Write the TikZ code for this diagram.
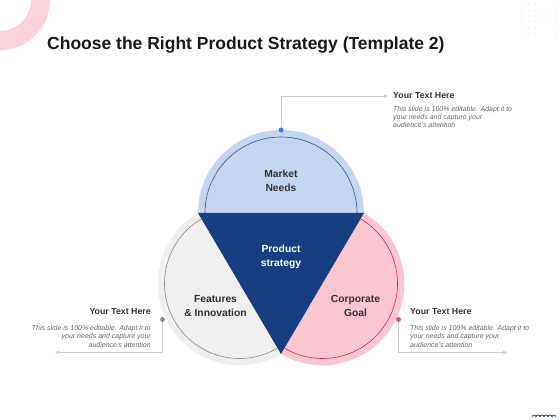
\documentclass[tikz,border=0pt]{standalone}
\usepackage{fontspec}
\setmainfont{Liberation Sans}
\usetikzlibrary{arrows.meta}
\definecolor{mktblue}{HTML}{C6D6F2}
\definecolor{navy}{HTML}{173E80}
\definecolor{featgray}{HTML}{EFEFEF}
\definecolor{goalpink}{HTML}{F9C6D2}
\definecolor{goalred}{HTML}{D62A4C}
\definecolor{dotpink}{HTML}{F0506E}
\definecolor{dotblue}{HTML}{3A78D8}
\definecolor{linegray}{HTML}{CFCFCF}
\definecolor{txtdark}{HTML}{333333}
\definecolor{txtgray}{HTML}{666666}
\definecolor{ringpink}{HTML}{FAD3DC}

\begin{document}
\begin{tikzpicture}[
  x=1pt,
  y=1pt,
  lbl/.style={
    font=\fontsize{10.3}{14}\selectfont\bfseries,
    text=txtdark,
    align=center
  },
  head/.style={
    font=\fontsize{8.8}{10}\selectfont\bfseries,
    text=txtdark,
    inner sep=0pt
  },
  body/.style={
    font=\fontsize{7}{8.3}\selectfont\itshape,
    text=txtgray,
    inner sep=0pt
  },
  conn/.style={
    linegray,
    line width=0.6pt,
    -{Triangle[length=4pt,width=3.5pt]}
  },
  mydot/.style={
    circle,
    outer sep=0pt,
    inner sep=0pt,
    minimum size=5pt
  }
]
\useasboundingbox (0,0) rectangle (560,420);
\draw[ringpink, line width=19pt] (0,420) circle (40.5);
\foreach \i in {0,...,5}
  \foreach \j in {0,...,5}
    \fill[black!8] (522+\i*6.8,416-\j*6) circle (0.8);
\foreach \k in {0,...,5}
  \draw[navy, line width=0.7pt] (532+4*\k,3) arc (180:0:2);

\node[font=\fontsize{17.5}{20}\selectfont\bfseries, text=black!90, anchor=west, inner sep=0pt] (title) at (47,375) {Choose the Right Product Strategy (Template 2)};

\fill[mktblue] (364,207) arc (0:180:83) -- cycle;
\fill[featgray] (198,207) arc (120.5:300.5:81.8) -- cycle;
\fill[goalpink] (281,66) arc (239.5:419.5:81.8) -- cycle;
\fill[navy] (198,207) -- (364,207) -- (281,66) -- cycle;
\draw[navy!85, line width=0.6pt] (357,207) arc (0:180:76);
\draw[black!45, line width=0.6pt] ([shift={(120.5:75)}]239.5,136.5) arc (120.5:300.5:75);
\draw[goalred, line width=0.6pt] ([shift={(239.5:75)}]322.5,136.5) arc (239.5:419.5:75);

\node[lbl] (mkt) at (281,239) {Market\\Needs};
\node[lbl, text=white] (prod) at (281,163) {Product\\strategy};
\node[lbl] (feat) at (215.5,114) {Features\\\& Innovation};
\node[lbl] (goal) at (355.5,114) {Corporate\\Goal};

\node[mydot, fill=dotblue] (mktdot) at (281,290) {};
\node[mydot, fill=black!45] (featdot) at (162.5,100.5) {};
\node[mydot, fill=dotpink] (goaldot) at (398.5,100.5) {};

\node[head, anchor=west] (mkthead) at (393,324) {Your Text Here};
\node[body, anchor=north west, align=left] (mktbody) at (393,314) {This slide is 100\% editable. Adapt it to\\your needs and capture your\\audience's attention};
\node[head, anchor=east] (feathead) at (151,108.3) {Your Text Here};
\node[body, anchor=north east, align=right] (featbody) at (151,94.6) {This slide is 100\% editable. Adapt it to\\your needs and capture your\\audience's attention};
\node[head, anchor=west] (goalhead) at (410,108.3) {Your Text Here};
\node[body, anchor=north west, align=left] (goalbody) at (410,94.6) {This slide is 100\% editable. Adapt it to\\your needs and capture your\\audience's attention};

\coordinate (featend) at (55,67.5);
\coordinate (goalend) at (507,67.5);
\draw[conn] (mktdot) |- ([xshift=-5pt]mkthead.west);
\draw[conn] (featdot) |- (featend);
\draw[conn] (goaldot) |- (goalend);
\end{tikzpicture}
\end{document}
